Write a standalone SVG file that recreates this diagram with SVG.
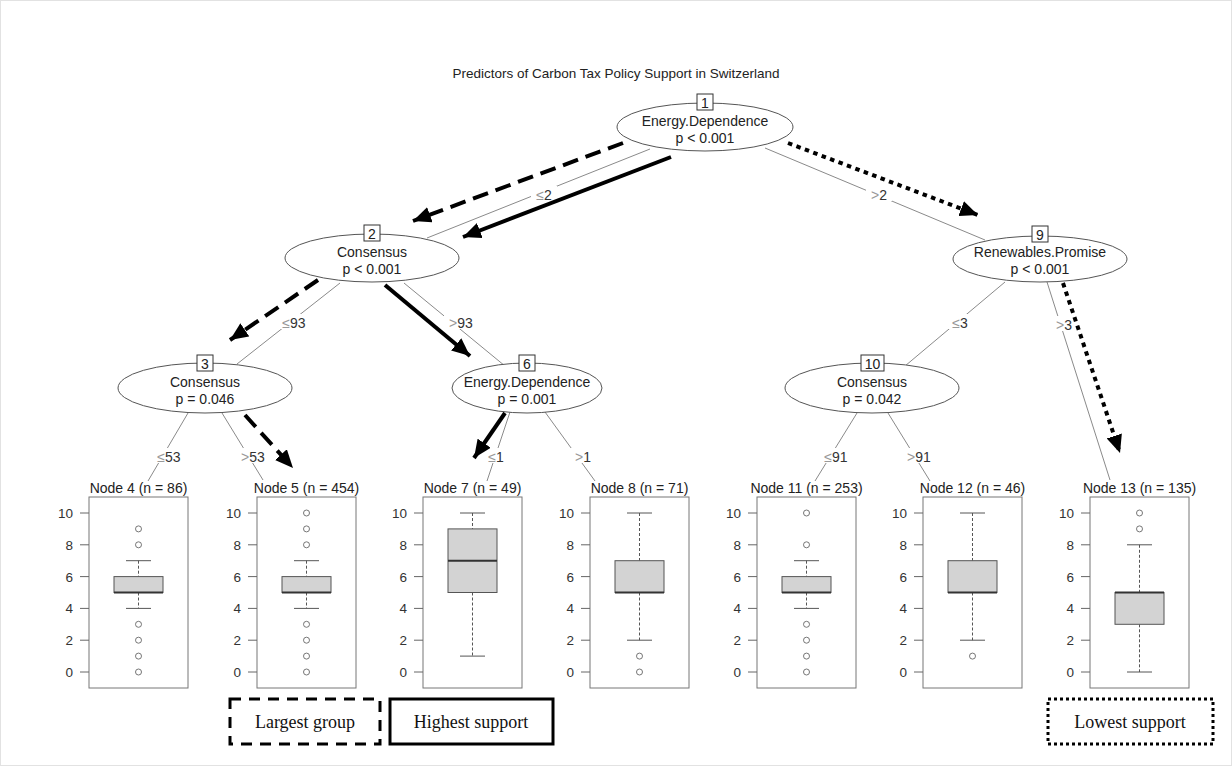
<svg xmlns="http://www.w3.org/2000/svg" xmlns:xlink="http://www.w3.org/1999/xlink" width="1232" height="766" viewBox="0 0 1232 766">
  <style>
    text { font-family: "Liberation Sans", Arial, sans-serif; fill: #222; }
    .title { font-size: 13.5px; text-anchor: middle; }
    .inner ellipse { fill: #fff; stroke: #555; stroke-width: 1; }
    .inner .idbox { fill: #fff; stroke: #333; stroke-width: 1; }
    .inner text { font-size: 14px; text-anchor: middle; }
    .edge { stroke: #8a8a8a; stroke-width: 1; fill: none; }
    .elab { font-size: 14px; text-anchor: middle; fill: #333; }
    .elab .op { fill: #999; }
    .lblbg { fill: #fff; }
    .panel { fill: #fff; stroke: #777; stroke-width: 1; }
    .tick { stroke: #666; stroke-width: 1; }
    .ticklab { font-size: 13.5px; text-anchor: end; fill: #333; }
    .nlab { font-size: 14px; text-anchor: middle; }
    .box { fill: #d3d3d3; stroke: #555; stroke-width: 1; }
    .med { stroke: #333; stroke-width: 2; }
    .whisk { stroke: #555; stroke-width: 1; stroke-dasharray: 3 2; }
    .cap { stroke: #555; stroke-width: 1; }
    .out { fill: none; stroke: #666; stroke-width: 0.9; }
    .path-arrow { fill: none; stroke: #000; stroke-width: 4; stroke-linecap: butt; }
    .dashed { stroke-dasharray: 16 8; }
    .dotted { stroke-dasharray: 4.5 4.5; }
    .legend rect { fill: #fff; stroke: #000; stroke-width: 3; }
    .legend text { font-family: "Liberation Serif", "Times New Roman", serif; font-size: 18px; text-anchor: middle; fill: #111; }
  </style>
  <defs>
    <marker id="head" markerUnits="userSpaceOnUse" markerWidth="20" markerHeight="16" refX="18" refY="8" orient="auto">
      <path d="M0,0 L18,8 L0,16 z" fill="#000"/>
    </marker>
    <!-- shared y axis for the terminal panels (value v at y = 672 - 15.9v) -->
    <g id="axis">
      <path class="tick" d="M-9,513H0M-9,544.8H0M-9,576.6H0M-9,608.4H0M-9,640.2H0M-9,672H0"/>
      <text class="ticklab" x="-16" y="518">10</text>
      <text class="ticklab" x="-16" y="550">8</text>
      <text class="ticklab" x="-16" y="581.5">6</text>
      <text class="ticklab" x="-16" y="613">4</text>
      <text class="ticklab" x="-16" y="645">2</text>
      <text class="ticklab" x="-16" y="677">0</text>
    </g>
  </defs>

  <rect x="0.5" y="0.5" width="1231" height="765" fill="#fff" stroke="#e2e2e2"/>

  <text class="title" x="616" y="78">Predictors of Carbon Tax Policy Support in Switzerland</text>

  <!-- tree edges with split labels -->
  <g id="edges">
    <line class="edge" x1="650" y1="149" x2="427" y2="238"/>
    <line class="edge" x1="765" y1="148" x2="985" y2="240"/>
    <line class="edge" x1="340" y1="283" x2="237" y2="364"/>
    <line class="edge" x1="404" y1="283" x2="505" y2="366"/>
    <line class="edge" x1="188" y1="413" x2="148" y2="481"/>
    <line class="edge" x1="222" y1="413" x2="263" y2="480"/>
    <line class="edge" x1="510" y1="412" x2="487" y2="481"/>
    <line class="edge" x1="545" y1="412" x2="595" y2="481"/>
    <line class="edge" x1="1005" y1="282" x2="905" y2="366"/>
    <line class="edge" x1="1047" y1="282" x2="1110" y2="480"/>
    <line class="edge" x1="857" y1="413" x2="815" y2="481"/>
    <line class="edge" x1="888" y1="413" x2="930" y2="481"/>

    <rect class="lblbg" x="531" y="186" width="26" height="15"/>
    <text class="elab" x="544" y="200"><tspan class="op">≤</tspan>2</text>
    <rect class="lblbg" x="866" y="186" width="26" height="15"/>
    <text class="elab" x="879" y="200"><tspan class="op">&gt;</tspan>2</text>
    <rect class="lblbg" x="277" y="314" width="34" height="15"/>
    <text class="elab" x="294" y="328"><tspan class="op">≤</tspan>93</text>
    <rect class="lblbg" x="444" y="314" width="34" height="15"/>
    <text class="elab" x="461" y="328"><tspan class="op">&gt;</tspan>93</text>
    <rect class="lblbg" x="947" y="314" width="26" height="15"/>
    <text class="elab" x="960" y="328"><tspan class="op">≤</tspan>3</text>
    <rect class="lblbg" x="1051" y="316" width="26" height="15"/>
    <text class="elab" x="1064" y="330"><tspan class="op">&gt;</tspan>3</text>
    <rect class="lblbg" x="152" y="448" width="34" height="15"/>
    <text class="elab" x="169" y="462"><tspan class="op">≤</tspan>53</text>
    <rect class="lblbg" x="236" y="448" width="34" height="15"/>
    <text class="elab" x="253" y="462"><tspan class="op">&gt;</tspan>53</text>
    <rect class="lblbg" x="483" y="448" width="26" height="15"/>
    <text class="elab" x="496" y="462"><tspan class="op">≤</tspan>1</text>
    <rect class="lblbg" x="570" y="448" width="26" height="15"/>
    <text class="elab" x="583" y="462"><tspan class="op">&gt;</tspan>1</text>
    <rect class="lblbg" x="819" y="448" width="34" height="15"/>
    <text class="elab" x="836" y="462"><tspan class="op">≤</tspan>91</text>
    <rect class="lblbg" x="902" y="448" width="34" height="15"/>
    <text class="elab" x="919" y="462"><tspan class="op">&gt;</tspan>91</text>
  </g>

  <!-- inner split nodes -->
  <g id="node1" class="inner">
    <ellipse cx="705" cy="127" rx="88" ry="24"/>
    <rect class="idbox" x="697" y="94" width="16" height="16"/>
    <text x="705" y="107.5">1</text>
    <text x="705" y="126">Energy.Dependence</text>
    <text x="705" y="143">p &lt; 0.001</text>
  </g>
  <g id="node2" class="inner">
    <ellipse cx="372" cy="258" rx="87" ry="24"/>
    <rect class="idbox" x="364" y="225" width="16" height="16"/>
    <text x="372" y="238.5">2</text>
    <text x="372" y="257">Consensus</text>
    <text x="372" y="274">p &lt; 0.001</text>
  </g>
  <g id="node3" class="inner">
    <ellipse cx="205" cy="388" rx="87" ry="25"/>
    <rect class="idbox" x="197" y="355" width="16" height="16"/>
    <text x="205" y="368.5">3</text>
    <text x="205" y="387">Consensus</text>
    <text x="205" y="404">p = 0.046</text>
  </g>
  <g id="node6" class="inner">
    <ellipse cx="527" cy="388" rx="75" ry="25"/>
    <rect class="idbox" x="519" y="355" width="16" height="16"/>
    <text x="527" y="368.5">6</text>
    <text x="527" y="387">Energy.Dependence</text>
    <text x="527" y="404">p = 0.001</text>
  </g>
  <g id="node9" class="inner">
    <ellipse cx="1040" cy="259" rx="87" ry="23"/>
    <rect class="idbox" x="1032" y="226" width="16" height="16"/>
    <text x="1040" y="239.5">9</text>
    <text x="1040" y="257">Renewables.Promise</text>
    <text x="1040" y="274">p &lt; 0.001</text>
  </g>
  <g id="node10" class="inner">
    <ellipse cx="872" cy="388" rx="87" ry="25"/>
    <rect class="idbox" x="861" y="355" width="23" height="16"/>
    <text x="872.5" y="368.5">10</text>
    <text x="872" y="387">Consensus</text>
    <text x="872" y="404">p = 0.042</text>
  </g>

  <!-- terminal nodes: boxplots -->
  <g id="node4">
    <text class="nlab" x="138.5" y="493">Node 4 (n = 86)</text>
    <rect class="panel" x="89" y="497" width="99" height="191"/>
    <use xlink:href="#axis" x="89"/>
    <line class="whisk" x1="138.5" y1="560.7" x2="138.5" y2="576.6"/>
    <line class="whisk" x1="138.5" y1="592.5" x2="138.5" y2="608.4"/>
    <path class="cap" d="M126,560.7H151M126,608.4H151"/>
    <rect class="box" x="114" y="576.6" width="49" height="15.9"/>
    <line class="med" x1="114" y1="592.5" x2="163" y2="592.5"/>
    <g class="out"><circle cx="138.5" cy="528.9" r="3"/><circle cx="138.5" cy="544.8" r="3"/><circle cx="138.5" cy="624.3" r="3"/><circle cx="138.5" cy="640.2" r="3"/><circle cx="138.5" cy="656.1" r="3"/><circle cx="138.5" cy="672" r="3"/></g>
  </g>
  <g id="node5">
    <text class="nlab" x="306.5" y="493">Node 5 (n = 454)</text>
    <rect class="panel" x="257" y="497" width="99" height="191"/>
    <use xlink:href="#axis" x="257"/>
    <line class="whisk" x1="306.5" y1="560.7" x2="306.5" y2="576.6"/>
    <line class="whisk" x1="306.5" y1="592.5" x2="306.5" y2="608.4"/>
    <path class="cap" d="M294,560.7H319M294,608.4H319"/>
    <rect class="box" x="282" y="576.6" width="49" height="15.9"/>
    <line class="med" x1="282" y1="592.5" x2="331" y2="592.5"/>
    <g class="out"><circle cx="306.5" cy="513" r="3"/><circle cx="306.5" cy="528.9" r="3"/><circle cx="306.5" cy="544.8" r="3"/><circle cx="306.5" cy="624.3" r="3"/><circle cx="306.5" cy="640.2" r="3"/><circle cx="306.5" cy="656.1" r="3"/><circle cx="306.5" cy="672" r="3"/></g>
  </g>
  <g id="node7">
    <text class="nlab" x="472.5" y="493">Node 7 (n = 49)</text>
    <rect class="panel" x="423" y="497" width="99" height="191"/>
    <use xlink:href="#axis" x="423"/>
    <line class="whisk" x1="472.5" y1="513" x2="472.5" y2="528.9"/>
    <line class="whisk" x1="472.5" y1="592.5" x2="472.5" y2="656.1"/>
    <path class="cap" d="M460,513H485M460,656.1H485"/>
    <rect class="box" x="448" y="528.9" width="49" height="63.6"/>
    <line class="med" x1="448" y1="560.7" x2="497" y2="560.7"/>
  </g>
  <g id="node8">
    <text class="nlab" x="639.5" y="493">Node 8 (n = 71)</text>
    <rect class="panel" x="590" y="497" width="99" height="191"/>
    <use xlink:href="#axis" x="590"/>
    <line class="whisk" x1="639.5" y1="513" x2="639.5" y2="560.7"/>
    <line class="whisk" x1="639.5" y1="592.5" x2="639.5" y2="640.2"/>
    <path class="cap" d="M627,513H652M627,640.2H652"/>
    <rect class="box" x="615" y="560.7" width="49" height="31.8"/>
    <line class="med" x1="615" y1="592.5" x2="664" y2="592.5"/>
    <g class="out"><circle cx="639.5" cy="656.1" r="3"/><circle cx="639.5" cy="672" r="3"/></g>
  </g>
  <g id="node11">
    <text class="nlab" x="806.5" y="493">Node 11 (n = 253)</text>
    <rect class="panel" x="757" y="497" width="99" height="191"/>
    <use xlink:href="#axis" x="757"/>
    <line class="whisk" x1="806.5" y1="560.7" x2="806.5" y2="576.6"/>
    <line class="whisk" x1="806.5" y1="592.5" x2="806.5" y2="608.4"/>
    <path class="cap" d="M794,560.7H819M794,608.4H819"/>
    <rect class="box" x="782" y="576.6" width="49" height="15.9"/>
    <line class="med" x1="782" y1="592.5" x2="831" y2="592.5"/>
    <g class="out"><circle cx="806.5" cy="513" r="3"/><circle cx="806.5" cy="544.8" r="3"/><circle cx="806.5" cy="624.3" r="3"/><circle cx="806.5" cy="640.2" r="3"/><circle cx="806.5" cy="656.1" r="3"/><circle cx="806.5" cy="672" r="3"/></g>
  </g>
  <g id="node12">
    <text class="nlab" x="972.5" y="493">Node 12 (n = 46)</text>
    <rect class="panel" x="923" y="497" width="99" height="191"/>
    <use xlink:href="#axis" x="923"/>
    <line class="whisk" x1="972.5" y1="513" x2="972.5" y2="560.7"/>
    <line class="whisk" x1="972.5" y1="592.5" x2="972.5" y2="640.2"/>
    <path class="cap" d="M960,513H985M960,640.2H985"/>
    <rect class="box" x="948" y="560.7" width="49" height="31.8"/>
    <line class="med" x1="948" y1="592.5" x2="997" y2="592.5"/>
    <g class="out"><circle cx="972.5" cy="656.1" r="3"/></g>
  </g>
  <g id="node13">
    <text class="nlab" x="1139.5" y="493">Node 13 (n = 135)</text>
    <rect class="panel" x="1090" y="497" width="99" height="191"/>
    <use xlink:href="#axis" x="1090"/>
    <line class="whisk" x1="1139.5" y1="544.8" x2="1139.5" y2="592.5"/>
    <line class="whisk" x1="1139.5" y1="624.3" x2="1139.5" y2="672"/>
    <path class="cap" d="M1127,544.8H1152M1127,672H1152"/>
    <rect class="box" x="1115" y="592.5" width="49" height="31.8"/>
    <line class="med" x1="1115" y1="592.5" x2="1164" y2="592.5"/>
    <g class="out"><circle cx="1139.5" cy="513" r="3"/><circle cx="1139.5" cy="528.9" r="3"/></g>
  </g>

  <!-- highlighted paths -->
  <g id="highlight-paths">
    <line class="path-arrow dashed" x1="623" y1="143" x2="413" y2="221" marker-end="url(#head)"/>
    <line class="path-arrow dashed" x1="318" y1="280" x2="230" y2="340" marker-end="url(#head)"/>
    <line class="path-arrow dashed" x1="245" y1="415" x2="293" y2="468" marker-end="url(#head)"/>
    <line class="path-arrow" x1="671" y1="157" x2="463" y2="237" marker-end="url(#head)"/>
    <line class="path-arrow" x1="385" y1="285" x2="470" y2="356" marker-end="url(#head)"/>
    <line class="path-arrow" x1="505" y1="413" x2="474" y2="458" marker-end="url(#head)"/>
    <line class="path-arrow dotted" x1="788" y1="143" x2="978" y2="215" marker-end="url(#head)"/>
    <line class="path-arrow dotted" x1="1063" y1="283" x2="1120" y2="453" marker-end="url(#head)"/>
  </g>

  <!-- legend boxes -->
  <g id="legend" class="legend">
    <rect x="230" y="699" width="150" height="45" stroke-dasharray="11 8"/>
    <text x="305" y="728">Largest group</text>
    <rect x="390" y="699" width="163" height="45"/>
    <text x="471" y="728">Highest support</text>
    <rect x="1048" y="699" width="165" height="45" stroke-dasharray="3 3"/>
    <text x="1130" y="728">Lowest support</text>
  </g>
</svg>
